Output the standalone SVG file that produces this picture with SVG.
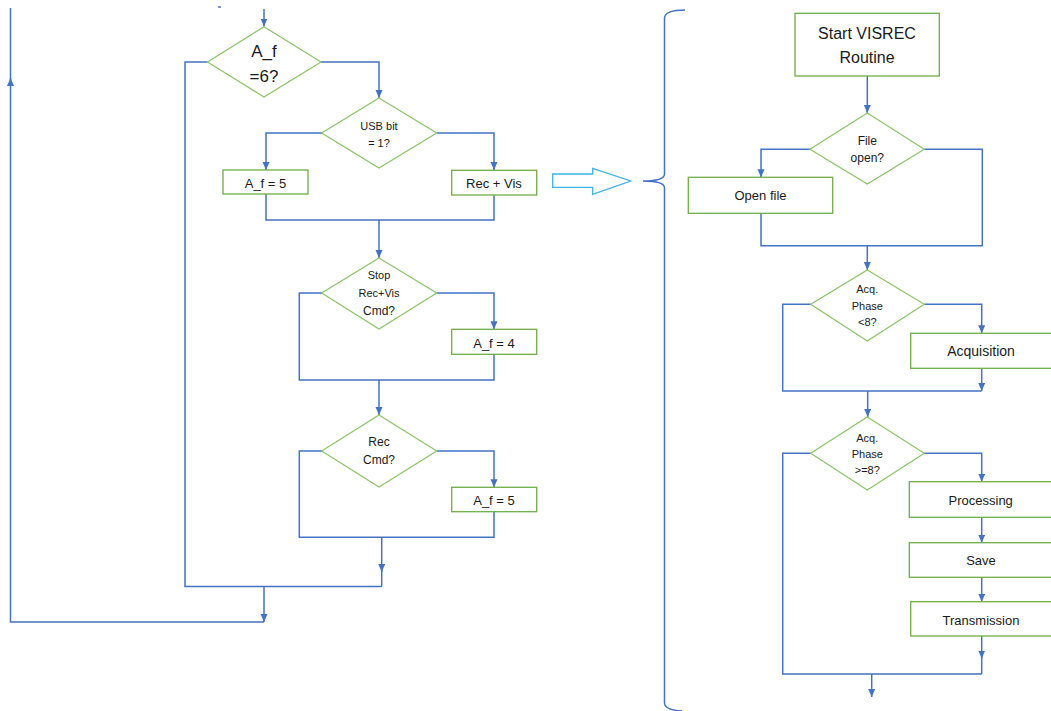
<svg xmlns="http://www.w3.org/2000/svg" width="1051" height="711" viewBox="0 0 1051 711">
  <defs>
    <marker id="arr" markerUnits="userSpaceOnUse" markerWidth="8" markerHeight="8" refX="8" refY="3.5" orient="auto">
      <path d="M0,0 L8,3.5 L0,7 z" fill="#4472c4"/>
    </marker>
    <style>
      .c { fill: none; stroke: #4472c4; stroke-width: 1.5; }
      .a { marker-end: url(#arr); }
      .box { fill: #ffffff; stroke: #70ad47; stroke-width: 1.3; }
      .dia { fill: #ffffff; stroke: #8cc46a; stroke-width: 1.2; }
      text { font-family: "Liberation Sans", Arial, sans-serif; fill: #1a1a1a; text-anchor: middle; }
      .s11 { font-size: 11px; }
      .s12 { font-size: 12px; }
      .s13 { font-size: 13px; }
      .s14 { font-size: 14px; }
      .s16 { font-size: 16px; }
      .s17 { font-size: 17px; }
    </style>
  </defs>
  <rect width="1051" height="711" fill="#ffffff"/>

  <!-- connectors -->
  <g id="connectors">
    <!-- left flowchart -->
    <path class="c" d="M218,7 H221"/>
    <path class="c a" d="M264,9 V26.5"/>
    <path class="c" d="M207.5,62 H185 V586.5 H381.7"/>
    <path class="c a" d="M264,586.5 V622"/>
    <path class="c a" d="M264,622 H10.5 V78"/>
    <path class="c" d="M10.5,80 V8"/>
    <path class="c a" d="M321,62 H379 V98"/>
    <path class="c a" d="M322,133 H266 V170"/>
    <path class="c a" d="M437,133 H494 V170"/>
    <path class="c" d="M266,194 V220 H494 V195"/>
    <path class="c a" d="M379,220 V258"/>
    <path class="c" d="M322,293 H299.3 V380 H494 V354.3"/>
    <path class="c a" d="M437,293 H494 V329.3"/>
    <path class="c a" d="M379,380 V415"/>
    <path class="c" d="M322,451 H299.3 V537.3 H494 V511.7"/>
    <path class="c a" d="M437,451 H494 V487.3"/>
    <path class="c a" d="M381.7,537.3 V572"/>
    <path class="c" d="M381.7,570 V586.5"/>

    <!-- hollow block arrow and brace -->
    <polygon points="552.7,174 592.7,174 592.7,168.3 630.7,181 592.7,194.3 592.7,187.3 552.7,187.3" fill="none" stroke="#3fb2e6" stroke-width="1.3"/>
    <path d="M685,10 Q665,10 664.5,18 V174 Q664.5,181 643,181 Q664.5,181 664.5,188 V703 Q664.5,710 682,711" fill="none" stroke="#4472c4" stroke-width="1.5"/>

    <!-- right flowchart -->
    <path class="c a" d="M867.3,76 V113"/>
    <path class="c a" d="M810,149.3 H761 V177.3"/>
    <path class="c" d="M924.3,149.3 H982.3 V245.7 H761 V213.3"/>
    <path class="c a" d="M867.3,245.7 V270"/>
    <path class="c" d="M810.7,304.3 H782.7 V391 H981.7"/>
    <path class="c a" d="M924.3,304.3 H981.7 V333.3"/>
    <path class="c a" d="M981.7,368.3 V391"/>
    <path class="c a" d="M867.7,391 V417"/>
    <path class="c" d="M810.7,453.3 H782.7 V674 H981.7"/>
    <path class="c a" d="M924.3,453.3 H981.7 V481.7"/>
    <path class="c a" d="M981.7,517.3 V542.7"/>
    <path class="c a" d="M981.7,577.3 V601.7"/>
    <path class="c a" d="M981.7,636 V658.5"/>
    <path class="c" d="M981.7,656 V674"/>
    <path class="c a" d="M871.7,674 V697"/>
  </g>

  <!-- left flowchart nodes -->
  <g id="dec-af6">
    <polygon class="dia" points="264,26.7 321,62 264,97 207.5,62"/>
    <text class="s17" x="264" y="57">A_f</text>
    <text class="s17" x="264" y="82">=6?</text>
  </g>
  <g id="dec-usb">
    <polygon class="dia" points="379,98 436.7,133 379,168 321.7,133"/>
    <text class="s11" x="379" y="130">USB bit</text>
    <text class="s11" x="379" y="146.5">= 1?</text>
  </g>
  <g id="set-af5-a">
    <rect class="box" x="223" y="170" width="85" height="24"/>
    <text class="s13" x="265.5" y="188">A_f = 5</text>
  </g>
  <g id="rec-vis">
    <rect class="box" x="451.7" y="170.3" width="85" height="24.7"/>
    <text class="s13" x="494" y="188">Rec + Vis</text>
  </g>
  <g id="dec-stop">
    <polygon class="dia" points="379,258 436.7,293 379,329 321.7,293"/>
    <text class="s11" x="379" y="278.5">Stop</text>
    <text class="s11" x="379" y="296.5">Rec+Vis</text>
    <text class="s12" x="379" y="315">Cmd?</text>
  </g>
  <g id="set-af4">
    <rect class="box" x="451.7" y="329.3" width="85" height="25"/>
    <text class="s13" x="494" y="347.5">A_f = 4</text>
  </g>
  <g id="dec-rec">
    <polygon class="dia" points="379,415 436.7,451 379,487 321.7,451"/>
    <text class="s12" x="379" y="446">Rec</text>
    <text class="s12" x="379" y="464">Cmd?</text>
  </g>
  <g id="set-af5-b">
    <rect class="box" x="451.7" y="487.3" width="85" height="24.4"/>
    <text class="s13" x="494" y="505">A_f = 5</text>
  </g>

  <!-- VISREC routine nodes -->
  <g id="start-visrec">
    <rect class="box" x="795" y="13.3" width="144.3" height="62.7"/>
    <text class="s16" x="867" y="38.5">Start VISREC</text>
    <text class="s16" x="867" y="63">Routine</text>
  </g>
  <g id="dec-file">
    <polygon class="dia" points="867.3,113 924.3,149.3 867.3,184 810,149.3"/>
    <text class="s12" x="867.3" y="145">File</text>
    <text class="s12" x="867.3" y="161.5">open?</text>
  </g>
  <g id="open-file">
    <rect class="box" x="688.3" y="177.3" width="144.4" height="36"/>
    <text class="s13" x="760.5" y="200">Open file</text>
  </g>
  <g id="dec-acq-lt8">
    <polygon class="dia" points="867.3,270 924.3,304.3 867.3,341 810.7,304.3"/>
    <text class="s11" x="867.3" y="293">Acq.</text>
    <text class="s11" x="867.3" y="309.5">Phase</text>
    <text class="s11" x="867.3" y="326">&lt;8?</text>
  </g>
  <g id="acquisition">
    <rect class="box" x="910.7" y="333.3" width="150" height="35"/>
    <text class="s14" x="981" y="355.5">Acquisition</text>
  </g>
  <g id="dec-acq-ge8">
    <polygon class="dia" points="867.3,417 924.3,453.3 867.3,490 810.7,453.3"/>
    <text class="s11" x="867.3" y="441.5">Acq.</text>
    <text class="s11" x="867.3" y="458">Phase</text>
    <text class="s11" x="867.3" y="474">&gt;=8?</text>
  </g>
  <g id="processing">
    <rect class="box" x="909.3" y="481.7" width="150" height="35.6"/>
    <text class="s13" x="980.7" y="505">Processing</text>
  </g>
  <g id="save">
    <rect class="box" x="909.3" y="542.7" width="150" height="34.6"/>
    <text class="s13" x="981" y="565">Save</text>
  </g>
  <g id="transmission">
    <rect class="box" x="910.7" y="601.7" width="150" height="34.3"/>
    <text class="s13" x="981" y="624.5">Transmission</text>
  </g>
</svg>
